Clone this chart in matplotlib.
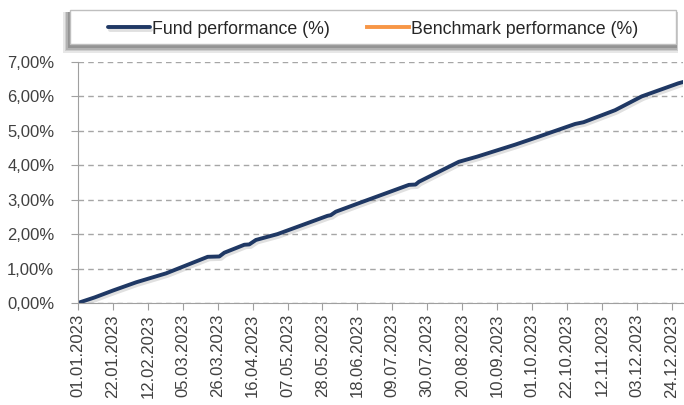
import matplotlib.pyplot as plt
import matplotlib.dates as mdates
import matplotlib.patheffects as pe
from matplotlib.patches import Rectangle
from matplotlib.ticker import FuncFormatter
import numpy as np
import pandas as pd

# fund performance (cumulative %)
dates = ["2023-01-01", "2023-01-11", "2023-01-22", "2023-02-05", "2023-02-23",
         "2023-03-20", "2023-03-27", "2023-03-30", "2023-04-11", "2023-04-14",
         "2023-04-18", "2023-05-01", "2023-05-31", "2023-06-02", "2023-06-05",
         "2023-06-19", "2023-07-19", "2023-07-23", "2023-07-25", "2023-08-18",
         "2023-08-29", "2023-09-21", "2023-10-05", "2023-10-27", "2023-11-01",
         "2023-11-20", "2023-12-06", "2023-12-28", "2023-12-31"]
fund = [0.00, 0.16, 0.36, 0.60, 0.86,
        1.34, 1.35, 1.46, 1.69, 1.70,
        1.83, 2.00, 2.53, 2.55, 2.65,
        2.90, 3.43, 3.44, 3.52, 4.10,
        4.25, 4.60, 4.83, 5.20, 5.25,
        5.60, 6.00, 6.38, 6.42]
benchmark = []
tick_dates = pd.date_range("2023-01-01", "2023-12-31", freq="21D")

plt.rcParams['font.family'] = ['Liberation Sans', 'DejaVu Sans']
fig = plt.figure(figsize=(6.84, 4.05), dpi=100)
ax = fig.add_axes([0.114, 0.252, 0.885, 0.595])

x = pd.to_datetime(dates)
ax.plot(x, fund, color="#1f3864", lw=2.8, solid_capstyle="round",
        label="Fund performance (%)",
        path_effects=[pe.SimpleLineShadow(offset=(1.2, -1.8), alpha=0.12), pe.Normal()])
ax.plot(pd.to_datetime(benchmark), benchmark, color="#f79646", lw=2.8,
        label="Benchmark performance (%)")

ax.set_xlim(pd.Timestamp("2023-01-01"), pd.Timestamp("2023-12-31"))
ax.set_ylim(0, 7)
ax.set_yticks(np.arange(0, 8))
ax.yaxis.set_major_formatter(FuncFormatter(lambda v, p: f"{v:.2f}%".replace(".", ",")))
ax.set_xticks(tick_dates)
ax.xaxis.set_major_formatter(mdates.DateFormatter("%d.%m.%Y"))
plt.setp(ax.get_xticklabels(), rotation=90)
ax.tick_params(axis="both", colors="#a0a0a0", labelcolor="#404040", labelsize=12, length=5)
ax.tick_params(axis="y", pad=12)
ax.tick_params(axis="x", pad=3)

ax.grid(axis="y", color="#a6a6a6", ls=(0, (4, 3)), lw=1)
for s in ["top", "right"]:
    ax.spines[s].set_visible(False)
for s in ["left", "bottom"]:
    ax.spines[s].set_color("#a0a0a0")

# legend box with soft shadow
bx, by, bw, bh = 70 / 684, 1 - 44 / 405, 606 / 684, 34 / 405
for i, a in enumerate([0.12, 0.15, 0.2, 0.25]):
    d = (4 - i) * 1.8
    fig.patches.append(Rectangle((bx - d / 684, by - (d + 2) / 405), bw + 1.3 * d / 684,
                                 bh + d / 405, transform=fig.transFigure,
                                 facecolor="#404040", edgecolor="none", alpha=a))
fig.patches.append(Rectangle((bx, by), bw, bh, transform=fig.transFigure,
                             facecolor="white", edgecolor="#bfbfbf", lw=1))
h, l = ax.get_legend_handles_labels()
fig.legend(h, l, loc="center", bbox_to_anchor=(bx + bw / 2, by + bh / 2 - 2 / 405), ncol=2,
           frameon=False, fontsize=12.8, handlelength=2.35, handletextpad=0.12,
           columnspacing=2.1, labelcolor="#262626")

fig.savefig("out.png", dpi=100)
